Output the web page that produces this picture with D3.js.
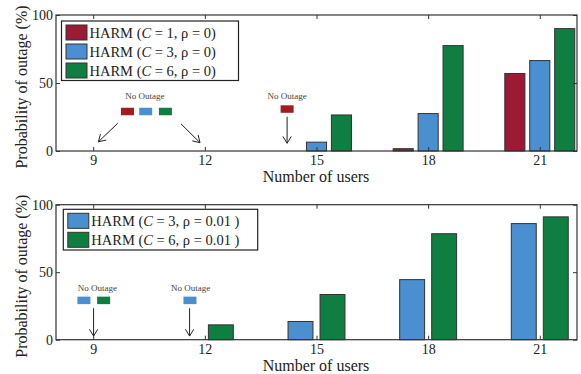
<!DOCTYPE html>
<html>
<head>
<meta charset="UTF-8">
<title>Probability of outage</title>
<script src="https://d3js.org/d3.v7.min.js"></script>
<style>
    body { margin: 0; background: #fff; }
    svg { font-family: "Liberation Serif", "DejaVu Serif", serif; }
    .tick text { font-family: "Liberation Serif", serif; font-size: 14px; fill: #222; }
    .tick line { stroke: #333; }
    .frame { fill: none; stroke: #333; stroke-width: 1.2; }
    .bar { stroke: #333; stroke-width: 1; }
    .lab { font-size: 16px; fill: #222; }
    .leg { font-size: 14.5px; fill: #222; }
    .note { font-size: 9px; fill: #444; }
    .arrow { stroke: #222; stroke-width: 1; fill: none; }
</style>
</head>
<body>
<svg id="chart" width="581" height="374"></svg>
<script>
// data
const users = [9, 12, 15, 18, 21];
const xTicks = [9, 12, 15, 18, 21];
const yTicks = [0, 50, 100];

const topC1 = [0, 0, 0, 1.7, 57];
const topC3 = [0, 0, 6.5, 27.5, 66.5];
const topC6 = [0, 0, 26.5, 77.5, 90];
const botC3 = [0, 0, 13.5, 44.5, 86];
const botC6 = [0, 11, 33.5, 78.5, 91];

const topNames = ["1, \u03c1 = 0)", "3, \u03c1 = 0)", "6, \u03c1 = 0)"];
const botNames = ["3, \u03c1 = 0.01 )", "6, \u03c1 = 0.01 )"];

const red = "#9b1b35", blue = "#4a8fd0", green = "#0e7f40";

const svg = d3.select("#chart");

// one panel = frame, ticks, bars, legend, labels
function panel(opt) {
    const x = d3.scaleLinear([8, 22], [56, 577]);
    const y = d3.scaleLinear([0, 100], [opt.y0, opt.y1]);
    const g = svg.append("g");

    // bars
    opt.series.forEach((s, i) => {
        const off = opt.offsets[i];
        g.selectAll(null)
            .data(users.map((u, j) => ({u: u, v: s[j]})).filter(d => d.v > 0))
            .join("rect")
            .attr("class", "bar")
            .attr("x", d => x(d.u + off - opt.bw / 2))
            .attr("width", d => x(d.u + off + opt.bw / 2) - x(d.u + off - opt.bw / 2))
            .attr("y", d => y(d.v))
            .attr("height", d => y(0) - y(d.v))
            .attr("fill", opt.colors[i]);
    });

    // ticks on all four sides, pointing inwards
    const noDomain = a => a.attr("font-family", null).attr("font-size", null).select(".domain").remove();
    g.append("g").attr("transform", `translate(0,${y(0)})`)
        .call(d3.axisBottom(x).tickValues(xTicks).tickSize(-4).tickPadding(4))
        .call(noDomain);
    g.append("g").attr("transform", `translate(0,${y(100)})`)
        .call(d3.axisTop(x).tickValues(xTicks).tickSize(-4).tickFormat(""))
        .call(noDomain);
    g.append("g").attr("transform", `translate(56,0)`)
        .call(d3.axisLeft(y).tickValues(yTicks).tickSize(-4).tickPadding(3))
        .call(noDomain);
    g.append("g").attr("transform", `translate(577,0)`)
        .call(d3.axisRight(y).tickValues(yTicks).tickSize(-4).tickFormat(""))
        .call(noDomain);

    g.append("rect").attr("class", "frame")
        .attr("x", 56).attr("y", y(100))
        .attr("width", 521).attr("height", y(0) - y(100));

    // axis labels
    g.append("text").attr("class", "lab")
        .attr("x", 316).attr("y", y(0) + 31)
        .attr("text-anchor", "middle")
        .text("Number of users");
    g.append("text").attr("class", "lab")
        .attr("transform", `translate(27,${(y(0) + y(100)) / 2 + 4}) rotate(-90)`)
        .attr("text-anchor", "middle")
        .text("Probability of outage (%)");

    // legend
    const L = opt.legend;
    g.append("rect")
        .attr("x", L.x).attr("y", L.y).attr("width", L.w).attr("height", L.h)
        .attr("fill", "#fff").attr("stroke", "#222").attr("stroke-width", 1.2);
    opt.names.forEach((n, i) => {
        const ry = L.y + 4 + i * 19;
        g.append("rect").attr("class", "bar")
            .attr("x", L.x + 4.5).attr("y", ry)
            .attr("width", 21).attr("height", 15)
            .attr("fill", opt.colors[i]);
        const t = g.append("text").attr("class", "leg")
            .attr("x", L.x + 28).attr("y", ry + 12.5);
        t.append("tspan").text("HARM (");
        t.append("tspan").attr("font-style", "italic").text("C");
        t.append("tspan").text(" = " + n);
    });

    // "No Outage" notes
    opt.notes.forEach(nt => {
        g.append("text").attr("class", "note")
            .attr("x", x(nt.tx)).attr("y", y(nt.ty))
            .attr("text-anchor", "middle").text("No Outage");
        nt.marks.forEach(m => {
            g.append("rect")
                .attr("x", x(m.x) - 6.5).attr("y", y(nt.my))
                .attr("width", 13).attr("height", 7.5)
                .attr("fill", m.c);
        });
        nt.arrows.forEach(a => {
            const x1 = x(a[0]), y1 = y(a[1]), x2 = x(a[2]), y2 = y(a[3]);
            const ang = Math.atan2(y2 - y1, x2 - x1);
            const hl = 8, ha = 0.55;
            g.append("line").attr("class", "arrow")
                .attr("x1", x1).attr("y1", y1).attr("x2", x2).attr("y2", y2);
            g.append("path").attr("class", "arrow")
                .attr("d", `M${x2 - hl * Math.cos(ang - ha)},${y2 - hl * Math.sin(ang - ha)}` +
                    `L${x2},${y2}` +
                    `L${x2 - hl * Math.cos(ang + ha)},${y2 - hl * Math.sin(ang + ha)}`);
        });
    });
}

panel({
    y0: 151, y1: 15,
    series: [topC1, topC3, topC6],
    colors: [red, blue, green],
    offsets: [-0.67, 0, 0.67],
    bw: 0.54,
    names: topNames,
    legend: {x: 61.5, y: 21, w: 177, h: 59.5},
    notes: [
        {tx: 10.39, ty: 38.2, my: 31.8,
         marks: [{x: 9.92, c: "#a01c22"}, {x: 10.41, c: blue}, {x: 10.94, c: green}],
         arrows: [[9.66, 20.4, 9.14, 6.8], [11.36, 19.9, 11.87, 6.1]]},
        {tx: 14.21, ty: 38.2, my: 33.6,
         marks: [{x: 14.21, c: "#a01c22"}],
         arrows: [[14.21, 25.2, 14.21, 5.7]]}
    ]
});

panel({
    y0: 339.7, y1: 204.7,
    series: [botC3, botC6],
    colors: [blue, green],
    offsets: [-0.43, 0.43],
    bw: 0.67,
    names: botNames,
    legend: {x: 63.3, y: 209.3, w: 194.4, h: 40.7},
    notes: [
        {tx: 9.11, ty: 36.4, my: 31.9,
         marks: [{x: 8.75, c: blue}, {x: 9.28, c: green}],
         arrows: [[9.01, 23.3, 9.01, 2.7]]},
        {tx: 11.62, ty: 36.4, my: 31.9,
         marks: [{x: 11.60, c: blue}],
         arrows: [[11.59, 23.3, 11.59, 2.7]]}
    ]
});
</script>
</body>
</html>
